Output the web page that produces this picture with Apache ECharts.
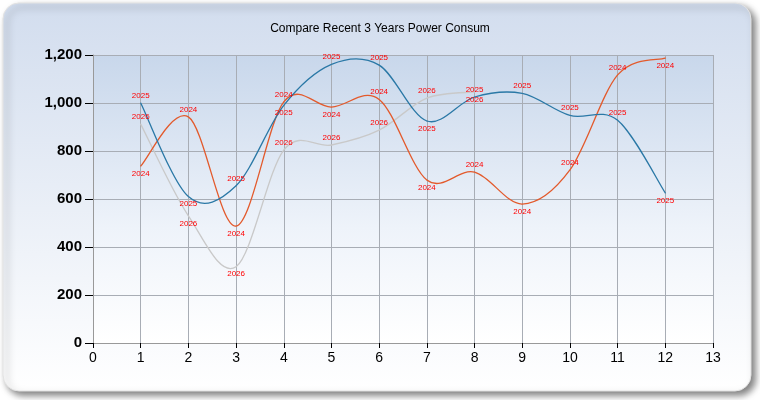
<!DOCTYPE html>
<html>
<head>
<meta charset="utf-8">
<script src="https://cdn.jsdelivr.net/npm/echarts@6/dist/echarts.min.js"></script>
<style>
  html, body { margin: 0; padding: 0; background: #ffffff; }
  #container { width: 760px; height: 400px; }
</style>
</head>
<body>
<div id="container"></div>
<script>
const months = [1, 2, 3, 4, 5, 6, 7, 8, 9, 10, 11, 12];
const power2025 = [1000, 610, 655, 990, 1161, 1158, 925, 1025, 1040, 948, 928, 625];
const power2024 = [737, 942, 487, 1005, 983, 1015, 679, 712, 579, 721, 1117, 1187];
const power2026 = [912, 530, 318, 804, 825, 887, 1020, 1046];
const xTicks = { min: 0, max: 13, step: 1 };
const yTicks = { min: 0, max: 1200, step: 200 };

// where each point label sits
const pos2025 = ['top', 'bottom', 'top', 'bottom', 'top', 'top', 'bottom', 'top', 'top', 'top', 'top', 'bottom'];
const pos2024 = ['bottom', 'top', 'bottom', 'top', 'bottom', 'top', 'bottom', 'top', 'bottom', 'top', 'top', 'bottom'];
const pos2026 = ['top', 'bottom', 'bottom', 'top', 'top', 'top', 'top', 'bottom'];

const TENSION = 0.5; // cardinal spline, like the original spline chart

const myChart = echarts.init(document.getElementById('container'));

// one bezier segment per point, from point i to point i+1
function splineSeries(values, color) {
    return {
        type: 'custom',
        clip: false,
        silent: true,
        data: values.map((v, i) => [months[i], v]),
        renderItem: function (params, api) {
            const i = params.dataIndex;
            const n = values.length;
            if (i >= n - 1) return null;
            const pt = j => api.coord([months[Math.max(0, Math.min(n - 1, j))], values[Math.max(0, Math.min(n - 1, j))]]);
            const p0 = pt(i - 1), p1 = pt(i), p2 = pt(i + 1), p3 = pt(i + 2);
            const k = TENSION / 3;
            return {
                type: 'bezierCurve',
                shape: {
                    x1: p1[0], y1: p1[1],
                    x2: p2[0], y2: p2[1],
                    cpx1: p1[0] + k * (p2[0] - p0[0]),
                    cpy1: p1[1] + k * (p2[1] - p0[1]),
                    cpx2: p2[0] - k * (p3[0] - p1[0]),
                    cpy2: p2[1] - k * (p3[1] - p1[1])
                },
                style: { stroke: color, fill: null, lineWidth: 1.3 }
            };
        }
    };
}

// invisible line that only carries the point labels
function labelSeries(name, values, positions, color) {
    return {
        name: name,
        type: 'line',
        symbol: 'circle',
        symbolSize: 1,
        itemStyle: { color: color },
        lineStyle: { opacity: 0 },
        data: values.map((v, i) => ({
            value: [months[i], v],
            label: { position: positions[i] }
        })),
        label: {
            show: true,
            formatter: name,
            distance: 3,
            color: '#ff0000',
            fontSize: 8,
            fontFamily: 'Liberation Sans, Arial, sans-serif',
            textShadowColor: 'rgba(255,120,120,0.6)',
            textShadowOffsetX: 1,
            textShadowOffsetY: 1,
            textShadowBlur: 0
        },
        emphasis: { disabled: true },
        z: 3
    };
}

const option = {
    animation: false,
    backgroundColor: 'transparent',
    graphic: [
        {
            type: 'rect',
            z: -10,
            shape: { x: 3, y: 3, width: 748, height: 388, r: 16 },
            style: {
                fill: new echarts.graphic.LinearGradient(0, 0, 0, 1, [
                    { offset: 0, color: '#d2ddee' },
                    { offset: 1, color: '#ffffff' }
                ]),
                stroke: '#e2e2e2',
                lineWidth: 1,
                shadowColor: 'rgba(0,0,0,0.5)',
                shadowBlur: 7,
                shadowOffsetX: 4,
                shadowOffsetY: 4
            }
        }
    ],
    title: {
        text: 'Compare Recent 3 Years Power Consum',
        left: 'center',
        top: 18,
        textStyle: {
            fontSize: 12,
            fontWeight: 'normal',
            color: '#000000',
            fontFamily: 'Liberation Sans, Arial, sans-serif'
        }
    },
    grid: {
        left: 93,
        right: 47,
        top: 55,
        bottom: 57,
        show: true,
        borderWidth: 0,
        backgroundColor: new echarts.graphic.LinearGradient(0, 0, 0, 1, [
            { offset: 0, color: '#c8d7eb' },
            { offset: 0.6, color: '#eef3fa' },
            { offset: 1, color: '#ffffff' }
        ])
    },
    xAxis: {
        type: 'value',
        min: xTicks.min,
        max: xTicks.max,
        interval: xTicks.step,
        axisLine: { lineStyle: { color: '#999999', width: 1 } },
        axisTick: { length: 5, lineStyle: { color: '#000000' } },
        splitLine: { show: true, lineStyle: { color: '#a8adb5', width: 1 } },
        axisLabel: {
            color: '#000000',
            fontSize: 14,
            margin: 8,
            fontFamily: 'Liberation Sans, Arial, sans-serif'
        }
    },
    yAxis: {
        type: 'value',
        min: yTicks.min,
        max: yTicks.max,
        interval: yTicks.step,
        axisLine: { show: true, lineStyle: { color: '#999999', width: 1 } },
        axisTick: { show: true, length: 8, lineStyle: { color: '#000000' } },
        splitLine: { show: true, lineStyle: { color: '#a8adb5', width: 1 } },
        axisLabel: {
            color: '#000000',
            fontSize: 15,
            fontWeight: 'bold',
            margin: 11,
            fontFamily: 'Liberation Sans, Arial, sans-serif',
            formatter: v => v.toLocaleString('en-US')
        }
    },
    series: [
        splineSeries(power2026, '#c9c9c9'),
        splineSeries(power2024, '#e35a2c'),
        splineSeries(power2025, '#2a78a6'),
        labelSeries('2025', power2025, pos2025, '#2a78a6'),
        labelSeries('2024', power2024, pos2024, '#e35a2c'),
        labelSeries('2026', power2026, pos2026, '#c9c9c9')
    ]
};

myChart.setOption(option);
</script>
</body>
</html>
